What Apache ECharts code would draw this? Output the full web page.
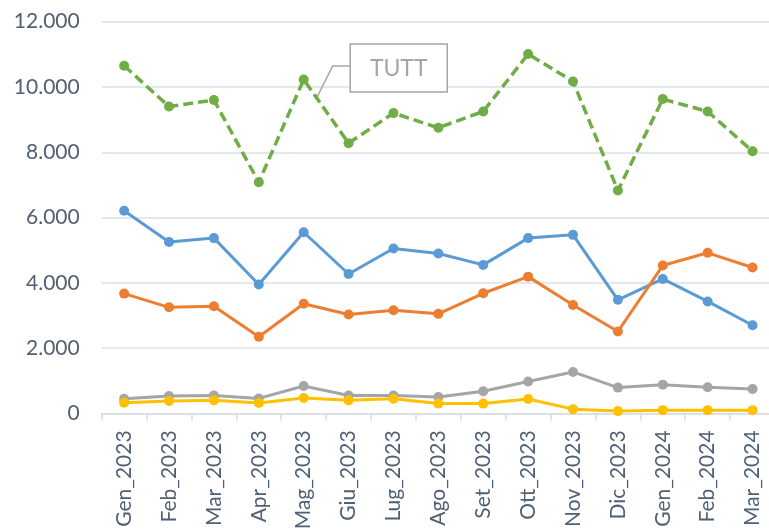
<!DOCTYPE html>
<html>
<head>
<meta charset="utf-8">
<script src="https://cdn.jsdelivr.net/npm/echarts@6/dist/echarts.min.js"></script>
<style>
html,body{margin:0;padding:0;background:#fff;}
#chart{width:769px;height:529px;}
</style>
</head>
<body>
<div id="chart"></div>
<script>
const categories = ['Gen_2023','Feb_2023','Mar_2023','Apr_2023','Mag_2023','Giu_2023','Lug_2023','Ago_2023','Set_2023','Ott_2023','Nov_2023','Dic_2023','Gen_2024','Feb_2024','Mar_2024'];
const tuttValues   = [10650, 9400, 9600, 7080, 10230, 8280, 9200, 8750, 9250, 11010, 10170, 6830, 9630, 9250, 8030];
const blueValues   = [6210, 5250, 5370, 3950, 5550, 4270, 5050, 4900, 4550, 5370, 5470, 3480, 4120, 3430, 2700];
const orangeValues = [3670, 3250, 3280, 2350, 3360, 3030, 3160, 3050, 3680, 4190, 3320, 2510, 4530, 4920, 4470];
const grayValues   = [450, 530, 550, 460, 840, 550, 550, 500, 680, 980, 1270, 790, 880, 800, 750];
const yellowValues = [330, 380, 400, 320, 470, 400, 450, 300, 300, 440, 130, 70, 100, 100, 100];
const yTicks = [0, 2000, 4000, 6000, 8000, 10000, 12000];
const annotationText = 'TUTT';

const FONT = 'Lato, "Open Sans", sans-serif';
const TEXT_COLOR = '#506075';
const chart = echarts.init(document.getElementById('chart'), null, {renderer: 'canvas'});

function fmt(v){ return String(v).replace(/\B(?=(\d{3})+(?!\d))/g, '.'); }

function lineSeries(name, data, color, dashed){
  return {
    name: name, type: 'line', data: data,
    symbol: 'circle', symbolSize: 10,
    itemStyle: {color: color},
    lineStyle: {color: color, width: dashed ? 3.5 : 3, type: dashed ? [10, 5] : 'solid'},
    emphasis: {disabled: true},
    animation: false
  };
}

chart.setOption({
  animation: false,
  grid: {left: 101.7, right: -6, top: 21.7, bottom: 115.6, containLabel: false, outerBoundsMode: 'none'},
  xAxis: {
    type: 'category', data: categories, boundaryGap: true,
    axisLine: {lineStyle: {color: '#d9dce1', width: 1.5}},
    axisTick: {show: true, length: 7, lineStyle: {color: '#d9dce1', width: 1.5}},
    axisLabel: {rotate: 90, interval: 0, margin: 17, color: TEXT_COLOR, fontFamily: FONT, fontSize: 21}
  },
  yAxis: {
    type: 'value', min: yTicks[0], max: yTicks[yTicks.length-1], interval: 2000,
    axisLine: {show: false}, axisTick: {show: false},
    splitLine: {lineStyle: {color: '#dde1e6', width: 1.5}},
    axisLabel: {margin: 22, color: TEXT_COLOR, fontFamily: FONT, fontSize: 21, formatter: fmt}
  },
  series: [
    lineSeries('TUTT', tuttValues, '#70ad47', true),
    lineSeries('Serie A', blueValues, '#5b9bd5', false),
    lineSeries('Serie B', orangeValues, '#ed7d31', false),
    lineSeries('Serie C', grayValues, '#a5a5a5', false),
    lineSeries('Serie D', yellowValues, '#ffc000', false)
  ]
});

// annotation anchored on the TUTT line between Mag_2023 and Giu_2023
const p4 = chart.convertToPixel({gridIndex: 0}, [4, tuttValues[4]]);
const p5 = chart.convertToPixel({gridIndex: 0}, [5, tuttValues[5]]);
const t = 0.29;
const ax = p4[0] + (p5[0] - p4[0]) * t;
const ay = p4[1] + (p5[1] - p4[1]) * t;
const bx = ax + 33.5, by = ay - 54;
chart.setOption({
  graphic: [
    {type: 'polyline', z: 1, shape: {points: [[ax, ay], [ax + 16, ay - 32], [ax + 33.5, ay - 32]]},
     style: {stroke: '#a6a6a6', lineWidth: 1.5, fill: null}},
    {type: 'rect', z: 1, shape: {x: bx, y: by, width: 97, height: 48},
     style: {fill: '#ffffff', stroke: '#a6a6a6', lineWidth: 1.5}},
    {type: 'text', z: 2, x: bx + 48.5, y: by + 25,
     style: {text: annotationText, fill: '#a6a6a6', font: '23px ' + FONT, textAlign: 'center', textVerticalAlign: 'middle'}}
  ]
});
</script>
</body>
</html>
